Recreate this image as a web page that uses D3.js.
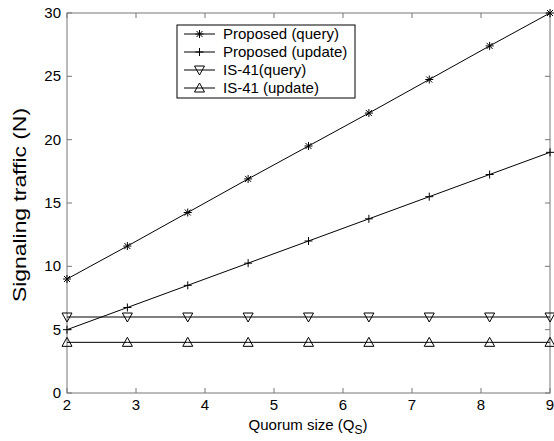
<!DOCTYPE html>
<html>
<head>
<meta charset="utf-8">
<script src="https://cdn.jsdelivr.net/npm/d3@7"></script>
<style>
  body { margin: 0; background: #fff; }
  svg text { font-family: "Liberation Sans", Arial, sans-serif; fill: #000; }
</style>
</head>
<body>
<div id="chart"></div>
<script>
// data
var quorum = [2, 2.875, 3.75, 4.625, 5.5, 6.375, 7.25, 8.125, 9];
var propQuery = [9, 11.6, 14.25, 16.9, 19.5, 22.1, 24.75, 27.4, 30];
var propUpdate = [5, 6.75, 8.5, 10.25, 12, 13.75, 15.5, 17.25, 19];
var isQuery = [6, 6, 6, 6, 6, 6, 6, 6, 6];
var isUpdate = [4, 4, 4, 4, 4, 4, 4, 4, 4];
var seriesNames = ['Proposed (query)', 'Proposed (update)', 'IS-41(query)', 'IS-41 (update)'];
var markers = ['star', 'plus', 'tridown', 'triup'];
var xTicks = [2, 3, 4, 5, 6, 7, 8, 9];
var yTicks = [0, 5, 10, 15, 20, 25, 30];

var allSeries = [propQuery, propUpdate, isQuery, isUpdate];

var width = 554, height = 441;
var margin = { top: 13, right: 4, bottom: 48, left: 67 };

var svg = d3.select('#chart')
    .append('svg')
        .attr('width', width)
        .attr('height', height);

var x = d3.scaleLinear().domain([2, 9]).range([margin.left, width - margin.right]);
var y = d3.scaleLinear().domain([0, 30]).range([height - margin.bottom, margin.top]);

var axisColor = '#777';

// box frame
svg.append('rect')
    .attr('x', x(2)).attr('y', y(30))
    .attr('width', x(9) - x(2)).attr('height', y(0) - y(30))
    .attr('fill', 'none').attr('stroke', axisColor).attr('stroke-width', 1);

// ticks (inward, on all four sides)
var tl = 5;
var g = svg.append('g').attr('stroke', axisColor);
xTicks.forEach(function(t) {
    g.append('line').attr('x1', x(t)).attr('x2', x(t)).attr('y1', y(0)).attr('y2', y(0) - tl);
    g.append('line').attr('x1', x(t)).attr('x2', x(t)).attr('y1', y(30)).attr('y2', y(30) + tl);
});
yTicks.forEach(function(t) {
    g.append('line').attr('x1', x(2)).attr('x2', x(2) + tl).attr('y1', y(t)).attr('y2', y(t));
    g.append('line').attr('x1', x(9)).attr('x2', x(9) - tl).attr('y1', y(t)).attr('y2', y(t));
});

// tick labels
svg.append('g').selectAll('text')
    .data(xTicks).enter().append('text')
        .attr('x', function(d) { return x(d); })
        .attr('y', y(0) + 17)
        .attr('text-anchor', 'middle')
        .style('font-size', '15px')
        .text(function(d) { return d; });

svg.append('g').selectAll('text')
    .data(yTicks).enter().append('text')
        .attr('x', x(2) - 6)
        .attr('y', function(d) { return y(d) + 5; })
        .attr('text-anchor', 'end')
        .style('font-size', '15px')
        .text(function(d) { return d; });

// axis titles
var xt = svg.append('text')
    .attr('x', 308).attr('y', 430)
    .attr('text-anchor', 'middle')
    .style('font-size', '15px');
xt.append('tspan').text('Quorum size (Q');
xt.append('tspan').attr('dy', 4).style('font-size', '12px').text('S');
xt.append('tspan').attr('dy', -4).text(')');

svg.append('text')
    .attr('transform', 'translate(26,205) rotate(-90)')
    .attr('text-anchor', 'middle')
    .attr('textLength', 194)
    .attr('lengthAdjust', 'spacingAndGlyphs')
    .style('font-size', '18px')
    .text('Signaling traffic (N)');

// marker shapes
function markerPath(type, cx, cy) {
    var s = 4;
    if (type === 'star') {
        return 'M' + (cx - s) + ',' + cy + 'L' + (cx + s) + ',' + cy +
               'M' + cx + ',' + (cy - s) + 'L' + cx + ',' + (cy + s) +
               'M' + (cx - 3) + ',' + (cy - 3) + 'L' + (cx + 3) + ',' + (cy + 3) +
               'M' + (cx - 3) + ',' + (cy + 3) + 'L' + (cx + 3) + ',' + (cy - 3);
    }
    if (type === 'plus') {
        return 'M' + (cx - s) + ',' + cy + 'L' + (cx + s) + ',' + cy +
               'M' + cx + ',' + (cy - s) + 'L' + cx + ',' + (cy + s);
    }
    if (type === 'tridown') {
        return 'M' + (cx - 5) + ',' + (cy - 4) + 'L' + (cx + 5) + ',' + (cy - 4) + 'L' + cx + ',' + (cy + 5) + 'Z';
    }
    return 'M' + (cx - 5) + ',' + (cy + 4) + 'L' + (cx + 5) + ',' + (cy + 4) + 'L' + cx + ',' + (cy - 5) + 'Z';
}

var line = d3.line()
    .x(function(d, i) { return x(quorum[i]); })
    .y(function(d) { return y(d); });

var plot = svg.append('g');
allSeries.forEach(function(vals, k) {
    plot.append('path')
        .attr('d', line(vals))
        .attr('fill', 'none')
        .attr('stroke', '#000')
        .attr('stroke-width', 1);
    plot.append('g').selectAll('path')
        .data(vals).enter().append('path')
            .attr('d', function(d, i) { return markerPath(markers[k], x(quorum[i]), y(d)); })
            .attr('fill', 'none')
            .attr('stroke', '#000')
            .attr('stroke-width', 1);
});

// legend
var lg = svg.append('g');
lg.append('rect')
    .attr('x', 177).attr('y', 25)
    .attr('width', 178).attr('height', 73)
    .attr('fill', '#fff').attr('stroke', '#000').attr('stroke-width', 1);
seriesNames.forEach(function(name, k) {
    var ly = 34 + k * 18;
    lg.append('line')
        .attr('x1', 184).attr('x2', 215).attr('y1', ly).attr('y2', ly)
        .attr('stroke', '#000');
    lg.append('path')
        .attr('d', markerPath(markers[k], 199.5, ly))
        .attr('fill', 'none').attr('stroke', '#000');
    lg.append('text')
        .attr('x', 223).attr('y', ly + 5)
        .style('font-size', '15px')
        .text(name);
});
</script>
</body>
</html>
